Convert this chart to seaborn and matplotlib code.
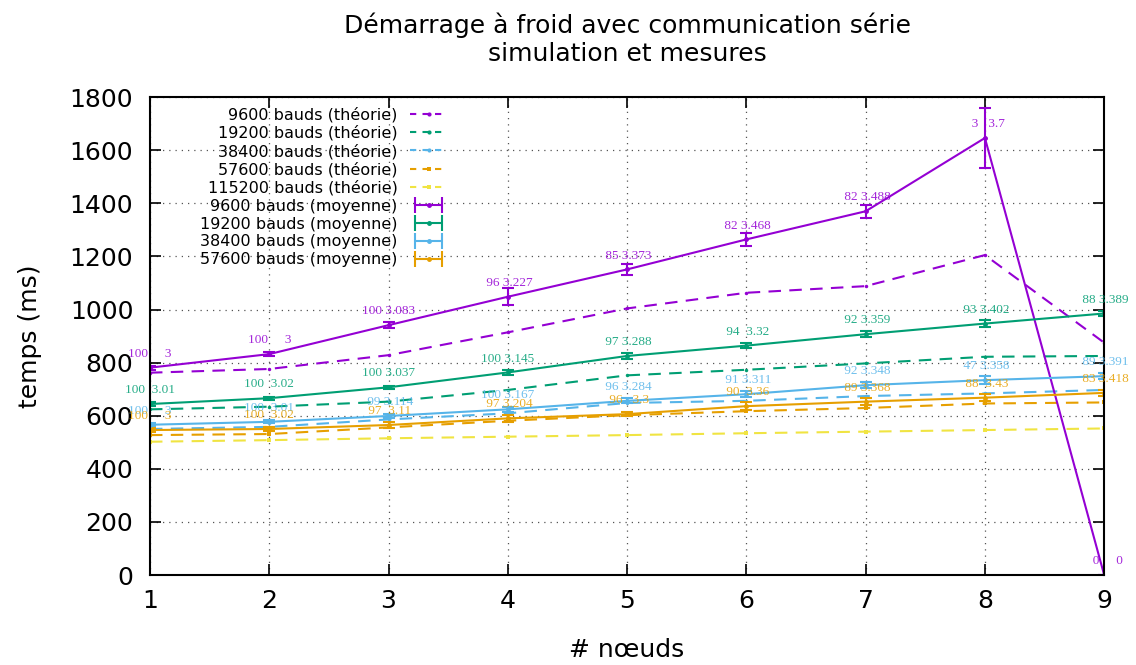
import numpy as np
import pandas as pd
import matplotlib
matplotlib.use("Agg")
import matplotlib.pyplot as plt
from matplotlib.lines import Line2D
from matplotlib.legend_handler import HandlerLine2D
import seaborn as sns

# nombre de noeuds
noeuds = [1, 2, 3, 4, 5, 6, 7, 8, 9]

# temps théoriques (ms)
th_9600 = [762, 776, 828, 914, 1004, 1063, 1088, 1205, 875]
th_19200 = [624, 634, 653, 697, 752, 773, 797, 822, 825]
th_38400 = [550, 558, 586, 609, 648, 656, 674, 684, 697]
th_57600 = [527, 531, 556, 581, 602, 617, 629, 646, 650]
th_115200 = [502, 508, 515, 521, 527, 534, 540, 546, 552]

# temps moyens mesurés (ms) et écarts
moy_9600 = [781, 832, 941, 1048, 1151, 1264, 1370, 1646, 0]
err_9600 = [8, 8, 12, 32, 20, 24, 25, 114, 0]
moy_19200 = [644, 666, 707, 763, 825, 864, 907, 947, 985]
err_19200 = [8, 6, 6, 8, 12, 10, 12, 12, 10]
moy_38400 = [566, 577, 599, 624, 656, 681, 715, 734, 749]
err_38400 = [6, 6, 8, 10, 10, 12, 12, 14, 10]
moy_57600 = [546, 550, 565, 590, 606, 636, 653, 668, 686]
err_57600 = [8, 8, 10, 12, 8, 14, 14, 14, 12]

# étiquettes : taux de réussite (%) et durée (s)
taux_9600 = [100, 100, 100, 96, 85, 82, 82, 3, 0]
duree_9600 = ["3", "3", "3.083", "3.227", "3.373", "3.468", "3.488", "3.7", "0"]
taux_19200 = [100, 100, 100, 100, 97, 94, 92, 93, 88]
duree_19200 = ["3.01", "3.02", "3.037", "3.145", "3.288", "3.32", "3.359", "3.402", "3.389"]
taux_38400 = [100, 100, 99, 100, 96, 91, 92, 47, 89]
duree_38400 = ["3", "3.01", "3.114", "3.167", "3.284", "3.311", "3.348", "3.358", "3.391"]
taux_57600 = [100, 100, 97, 97, 96, 90, 89, 88, 83]
duree_57600 = ["3", "3.02", "3.11", "3.204", "3.3", "3.36", "3.368", "3.43", "3.418"]

violet = "#9400d3"
vert = "#009e73"
bleu = "#56b4e9"
orange = "#e69f00"
jaune = "#f0e442"

sns.set_theme(style="ticks")
plt.rcParams["font.family"] = ["DejaVu Sans"]
plt.rcParams["text.color"] = "black"
plt.rcParams["axes.labelcolor"] = "black"

fig = plt.figure(figsize=(11.36, 6.65), dpi=100)
ax = fig.add_axes([0.132, 0.1353, 0.840, 0.7187])

theorie = [
    ("9600 bauds (théorie)", th_9600, violet, "o", 2.5),
    ("19200 bauds (théorie)", th_19200, vert, "o", 2.5),
    ("38400 bauds (théorie)", th_38400, bleu, "o", 2.5),
    ("57600 bauds (théorie)", th_57600, orange, "s", 3),
    ("115200 bauds (théorie)", th_115200, jaune, "s", 3),
]
handles, labels = [], []
for nom, vals, coul, mk, ms in theorie:
    df = pd.DataFrame({"noeuds": noeuds, "temps": vals})
    sns.lineplot(data=df, x="noeuds", y="temps", ax=ax, color=coul,
                 linestyle=(0, (6, 4)), linewidth=1.5, marker=mk, markersize=ms,
                 markeredgewidth=0, errorbar=None, legend=False)
    handles.append(Line2D([], [], color=coul, linestyle=(0, (3, 3)), linewidth=1.5,
                          marker=mk, markersize=ms + 0.5, markeredgewidth=0))
    labels.append(nom)

mesures = [
    ("9600 bauds (moyenne)", moy_9600, err_9600, violet, taux_9600, duree_9600),
    ("19200 bauds (moyenne)", moy_19200, err_19200, vert, taux_19200, duree_19200),
    ("38400 bauds (moyenne)", moy_38400, err_38400, bleu, taux_38400, duree_38400),
    ("57600 bauds (moyenne)", moy_57600, err_57600, orange, taux_57600, duree_57600),
]
barres = HandlerLine2D(numpoints=2)
hmap = {}
for nom, vals, err, coul, taux, duree in mesures:
    ax.errorbar(noeuds, vals, yerr=err, color=coul, linewidth=1.5,
                marker="o", markersize=2.5, capsize=4, capthick=1.5, elinewidth=1.5)
    for x, y, n, t in zip(noeuds, vals, taux, duree):
        ax.annotate(f"{n:>3} {t:>5}", (x, y), xytext=(0, 10), textcoords="offset points",
                    ha="center", va="center", fontsize=9.5, color=coul, alpha=0.85,
                    family=["Liberation Serif"])
    h_bar = Line2D([], [], color=coul, linewidth=1.5, marker="|", markersize=11,
                   markeredgewidth=1.5)
    h_pt = Line2D([], [], color=coul, linestyle="none", marker="o", markersize=2.5)
    hmap[h_bar] = barres
    handles.append((h_bar, h_pt))
    labels.append(nom)

ax.set_xlim(1, 9)
ax.set_ylim(0, 1800)
ax.set_xticks(noeuds)
ax.set_yticks(range(0, 1801, 200))
ax.tick_params(direction="in", length=8, width=1.2, top=True, right=True,
               labelsize=18, colors="black")
ax.tick_params(axis="y", pad=12)
ax.tick_params(axis="x", pad=10)
ax.grid(True, linestyle=(0, (1, 4)), color="#555555", linewidth=0.9)
for s in ax.spines.values():
    s.set_color("black")
    s.set_linewidth(1.5)

ax.set_xlabel("# nœuds", fontsize=18, labelpad=18)
ax.set_ylabel("temps (ms)", fontsize=18, labelpad=20)
ax.set_title("Démarrage à froid avec communication série\nsimulation et mesures",
             fontsize=18, pad=26, color="black")

leg = ax.legend(handles, labels, handler_map=hmap, loc="upper right",
                bbox_to_anchor=(0.318, 0.993), frameon=False, markerfirst=False,
                fontsize=11.5, handlelength=2.3, labelspacing=0.18, borderaxespad=0,
                handletextpad=0.8)
for t in leg.get_texts():
    t.set_color("black")

fig.savefig("out.png", dpi=100)
plt.close(fig)
